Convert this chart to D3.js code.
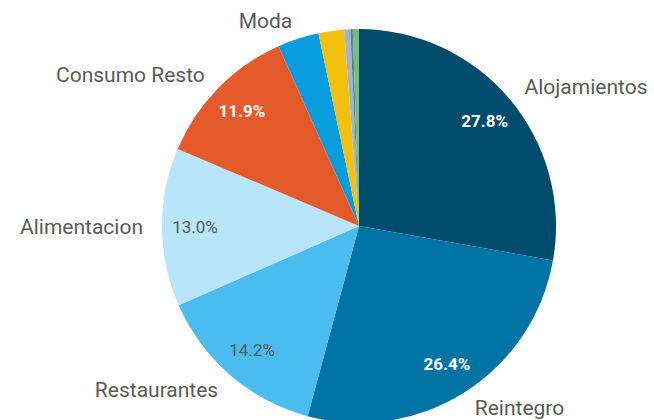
<!DOCTYPE html>
<html>
<head>
<meta charset="utf-8">
<script src="https://cdn.jsdelivr.net/npm/d3@7"></script>
<style>
  html, body { margin: 0; padding: 0; background: #fff; }
  svg { display: block; }
  text { font-family: Roboto, "Open Sans", sans-serif; }
</style>
</head>
<body>
<svg id="chart" width="654" height="420"></svg>
<script>
const categories = ["Alojamientos", "Reintegro", "Restaurantes", "Alimentacion", "Consumo Resto", "Moda", "Otros A", "Otros B", "Otros C", "Otros D"];
const values = [27.8, 26.4, 14.2, 13.0, 11.9, 3.4, 2.1, 0.5, 0.2, 0.5];
const colors = ["#014c6c", "#0173a5", "#4bbcef", "#b8e5f9", "#e55a2b", "#0a9ddd", "#f4c00f", "#9fb6cb", "#5f7f95", "#72bd85"];
const pctColors = ["#ffffff", "#ffffff", "#595959", "#595959", "#ffffff"];

const svg = d3.select("#chart");
const cx = 359, cy = 226, R = 197;
const g = svg.append("g").attr("transform", `translate(${cx},${cy})`);

const data = categories.map((c, i) => ({ name: c, value: values[i], color: colors[i], idx: i }));
const pie = d3.pie().value(d => d.value).sort(null);
const arcs = pie(data);
const arc = d3.arc().innerRadius(0).outerRadius(R);
const labelArc = d3.arc().innerRadius(164).outerRadius(164);
const outerArc = d3.arc().innerRadius(216).outerRadius(216);

g.selectAll("path.slice").data(arcs).enter().append("path")
  .attr("class", "slice")
  .attr("d", arc)
  .attr("fill", d => d.data.color);

// percentage labels on big slices
g.selectAll("text.pct").data(arcs.filter(d => d.data.value >= 10)).enter().append("text")
  .attr("class", "pct")
  .attr("transform", d => `translate(${labelArc.centroid(d)})`)
  .attr("text-anchor", "middle")
  .attr("dominant-baseline", "central")
  .attr("font-size", 17)
  .attr("font-weight", d => pctColors[d.data.idx] === "#ffffff" ? "bold" : "normal")
  .attr("fill", d => pctColors[d.data.idx])
  .text(d => d.data.value.toFixed(1) + "%");

// outer category labels
g.selectAll("text.cat").data(arcs.filter(d => d.data.value >= 3)).enter().append("text")
  .attr("class", "cat")
  .attr("transform", d => `translate(${outerArc.centroid(d)})`)
  .attr("text-anchor", d => ((d.startAngle + d.endAngle) / 2) < Math.PI ? "start" : "end")
  .attr("dominant-baseline", "central")
  .attr("font-size", 21)
  .attr("fill", "#5a5a5a")
  .text(d => d.data.name);
</script>
</body>
</html>
